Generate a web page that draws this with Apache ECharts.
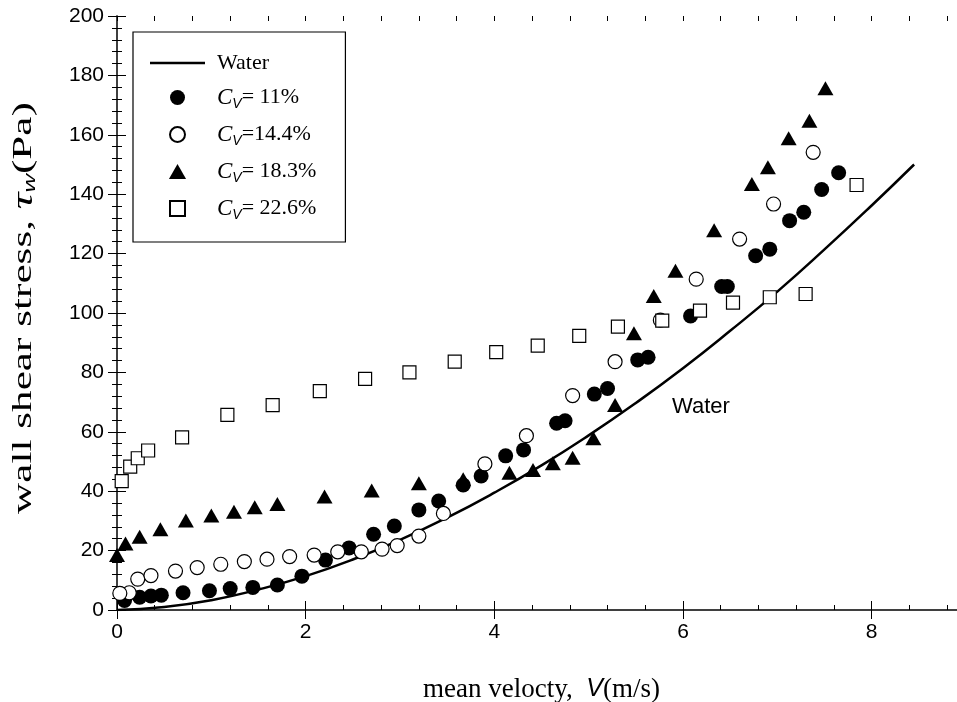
<!DOCTYPE html>
<html>
<head>
<meta charset="utf-8">
<script src="https://cdn.jsdelivr.net/npm/echarts@6/dist/echarts.min.js"></script>
<style>
  html, body { margin: 0; background: #fff; }
  #main { width: 957px; height: 702px; }
</style>
</head>
<body>
<div id="main"></div>
<script>
// water reference curve
const waterV = [0, 0.5, 1, 1.5, 2, 2.5, 3, 3.5, 4, 4.5, 5, 5.5, 6, 6.5, 7, 7.5, 8, 8.45]
const waterTau = [0, 1.0, 3.3, 6.9, 11.4, 17.0, 23.6, 31.1, 39.5, 48.7, 58.8, 69.7, 81.4, 94.0, 107.2, 121.4, 136.2, 150]

// Cv = 11%
const cv11V = [0.08, 0.24, 0.36, 0.47, 0.70, 0.98, 1.20, 1.44, 1.70, 1.96, 2.21, 2.46, 2.72, 2.94, 3.20, 3.41, 3.67, 3.86, 4.12, 4.31, 4.66, 4.75, 5.06, 5.20, 5.52, 5.63, 6.08, 6.41, 6.47, 6.77, 6.92, 7.13, 7.28, 7.47, 7.65]
const cv11Tau = [3.2, 4.3, 4.7, 5.0, 5.8, 6.5, 7.2, 7.6, 8.4, 11.4, 16.8, 20.9, 25.5, 28.3, 33.7, 36.7, 42.1, 45.1, 51.9, 53.9, 62.9, 63.7, 72.7, 74.6, 84.2, 85.1, 99.0, 108.9, 108.9, 119.3, 121.5, 131.1, 133.9, 141.6, 147.2]

// Cv = 14.4%
const cv14V = [0.13, 0.03, 0.22, 0.36, 0.62, 0.85, 1.10, 1.35, 1.59, 1.83, 2.09, 2.34, 2.59, 2.81, 2.97, 3.20, 3.46, 3.90, 4.34, 4.83, 5.28, 5.76, 6.14, 6.60, 6.96, 7.38]
const cv14Tau = [5.8, 5.6, 10.4, 11.6, 13.1, 14.3, 15.4, 16.3, 17.1, 18.0, 18.5, 19.6, 19.6, 20.5, 21.7, 24.9, 32.5, 49.2, 58.7, 72.2, 83.6, 97.6, 111.4, 124.9, 136.7, 154.1]

// Cv = 18.3%
const cv18V = [0.0, 0.09, 0.24, 0.46, 0.73, 1.00, 1.24, 1.46, 1.70, 2.20, 2.70, 3.20, 3.67, 4.16, 4.41, 4.62, 4.83, 5.05, 5.28, 5.48, 5.69, 5.92, 6.33, 6.73, 6.90, 7.12, 7.34, 7.51]
const cv18Tau = [18.5, 22.4, 24.7, 27.2, 30.1, 31.8, 33.1, 34.6, 35.7, 38.2, 40.2, 42.7, 44.0, 46.2, 47.1, 49.4, 51.3, 57.8, 69.0, 93.2, 105.7, 114.2, 127.9, 143.4, 149.1, 158.8, 164.7, 175.7]

// Cv = 22.6%
const cv22V = [0.05, 0.14, 0.22, 0.33, 0.69, 1.17, 1.65, 2.15, 2.63, 3.10, 3.58, 4.02, 4.46, 4.90, 5.31, 5.78, 6.18, 6.53, 6.92, 7.30, 7.84]
const cv22Tau = [43.4, 48.3, 51.1, 53.7, 58.1, 65.7, 69.0, 73.7, 77.8, 80.0, 83.6, 86.8, 89.0, 92.3, 95.4, 97.4, 100.8, 103.5, 105.3, 106.4, 143.1]

const seriesNames = ['Water', 'Cv= 11%', 'Cv=14.4%', 'Cv= 18.3%', 'Cv= 22.6%']
// 图例图标用 path, 这样宽高比不会被 itemWidth 拉伸
const legendIcons = [
  'path://M0,0h55v2.5h-55z',
  'circle',
  'circle',
  'path://M8,0L16,14L0,14Z',
  'path://M0,0h13v13h-13z'
]

const zip = (xs, ys) => xs.map((x, i) => [x, ys[i]])

const chart = echarts.init(document.getElementById('main'), null, { renderer: 'canvas' })

const serif = 'Liberation Serif, Times New Roman, serif'
const sans = 'Liberation Sans, Arial, sans-serif'

// 主刻度轴
function majorAxis (opt) {
  return Object.assign({
    type: 'value',
    axisLine: { lineStyle: { color: '#333', width: 1.5 } },
    axisTick: { inside: true, length: 9, lineStyle: { color: '#000', width: 1 } },
    axisLabel: { show: false },
    splitLine: { show: false }
  }, opt)
}
// 次刻度轴 (只画短刻度)
function minorAxis (opt) {
  return Object.assign({
    type: 'value',
    axisLine: { show: false },
    axisTick: { inside: true, length: 5, lineStyle: { color: '#000', width: 1 } },
    axisLabel: { show: false },
    splitLine: { show: false }
  }, opt)
}

const option = {
  animation: false,
  backgroundColor: '#fff',
  grid: { left: 117, top: 16, right: -9, bottom: 92, outerBoundsMode: 'none', containLabel: false },
  xAxis: [
    majorAxis({
      min: 0, max: 9, interval: 2, position: 'bottom',
      axisLabel: { show: true, showMaxLabel: false, color: '#000', fontFamily: sans, fontSize: 21, margin: 12 },
      name: '{n|mean velocty,  }{v|V}{n|(m/s)}',
      nameLocation: 'middle',
      nameGap: 66,
      nameTextStyle: {
        rich: {
          n: { fontFamily: serif, fontSize: 27, color: '#000' },
          v: { fontFamily: sans, fontStyle: 'italic', fontSize: 25, color: '#000' }
        }
      }
    }),
    majorAxis({ min: 0, max: 9, interval: 2, position: 'top' }),
    minorAxis({ min: 0, max: 9, interval: 0.4, position: 'bottom' }),
    minorAxis({ min: 0, max: 9, interval: 0.4, position: 'top' })
  ],
  yAxis: [
    majorAxis({
      min: 0, max: 200, interval: 20, position: 'left',
      axisLabel: { show: true, color: '#000', fontFamily: sans, fontSize: 21, margin: 13 },
      minorTick: { show: true, splitNumber: 5, length: 5, lineStyle: { color: '#000', width: 1 } }
    }),
    majorAxis({
      min: 0, max: 200, interval: 20, position: 'right',
      minorTick: { show: true, splitNumber: 5, length: 5, lineStyle: { color: '#000', width: 1 } }
    })
  ],
  legend: {
    orient: 'vertical',
    left: 133,
    top: 32,
    itemWidth: 55,
    itemHeight: 15,
    itemGap: 12,
    padding: [20, 29, 20, 17],
    borderColor: '#000',
    borderWidth: 1.2,
    borderRadius: 0,
    symbolKeepAspect: true,
    data: seriesNames.map((name, i) => ({ name: name, icon: legendIcons[i] })),
    formatter: function (name) {
      if (name === 'Water') return '{w|Water}'
      return '{c|C}{s|V}{n|' + name.slice(2) + '}'
    },
    textStyle: {
      rich: {
        w: { fontFamily: serif, fontSize: 22, color: '#000', padding: [0, 0, 0, 7] },
        c: { fontFamily: serif, fontStyle: 'italic', fontSize: 23, color: '#000', padding: [0, 0, 0, 7] },
        s: { fontFamily: sans, fontStyle: 'italic', fontSize: 14, color: '#000', padding: [13, 0, 0, 0] },
        n: { fontFamily: serif, fontSize: 22, color: '#000' }
      }
    }
  },
  graphic: [
    {
      type: 'text',
      left: 672,
      top: 396,
      style: { text: 'Water', font: '22px Liberation Sans, Arial, sans-serif', fill: '#000' }
    },
    {
      // y轴标题, 原图沿文字方向被拉长
      type: 'text',
      x: 24,
      y: 308,
      rotation: Math.PI / 2,
      scaleX: 1.6,
      style: {
        text: '{n|wall shear stress, }{t|τ}{w|w}{n|(Pa)}',
        align: 'center',
        verticalAlign: 'middle',
        rich: {
          n: { fontFamily: serif, fontSize: 27, fill: '#000' },
          t: { fontFamily: serif, fontStyle: 'italic', fontSize: 29, fill: '#000' },
          w: { fontFamily: sans, fontStyle: 'italic', fontSize: 16, fill: '#000', padding: [13, 0, 0, 0] }
        }
      }
    }
  ],
  series: [
    {
      name: seriesNames[0],
      type: 'line',
      smooth: true,
      symbol: 'none',
      data: zip(waterV, waterTau),
      lineStyle: { color: '#000', width: 2.5 },
      itemStyle: { color: '#000' },
      z: 1
    },
    {
      name: seriesNames[1],
      type: 'scatter',
      symbol: 'circle',
      symbolSize: 15,
      data: zip(cv11V, cv11Tau),
      itemStyle: { color: '#000', opacity: 1 },
      z: 2
    },
    {
      name: seriesNames[2],
      type: 'scatter',
      symbol: 'circle',
      symbolSize: 14,
      data: zip(cv14V, cv14Tau),
      itemStyle: { color: '#fff', borderColor: '#000', borderWidth: 1.2, opacity: 1 },
      z: 3
    },
    {
      name: seriesNames[3],
      type: 'scatter',
      symbol: 'triangle',
      symbolSize: [16, 14],
      data: zip(cv18V, cv18Tau),
      itemStyle: { color: '#000', opacity: 1 },
      z: 4
    },
    {
      name: seriesNames[4],
      type: 'scatter',
      symbol: 'rect',
      symbolSize: 13,
      data: zip(cv22V, cv22Tau),
      itemStyle: { color: '#fff', borderColor: '#000', borderWidth: 1.2, opacity: 1 },
      z: 5
    }
  ]
}

chart.setOption(option)
</script>
</body>
</html>
